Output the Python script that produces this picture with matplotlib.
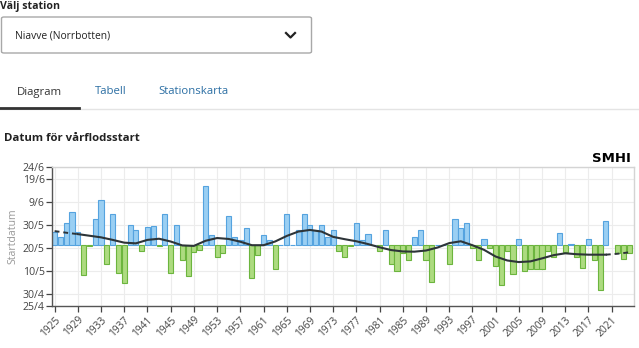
import numpy as np
import matplotlib.pyplot as plt
from matplotlib.patches import FancyBboxPatch

plt.rcParams['font.family'] = ['Open Sans', 'DejaVu Sans']

# -----------------------
# Data (day of year, 140 = 20/5)
# -----------------------
years = list(range(1925, 2025))
start_day = [
    147.1, 144.7, 150.9, 155.7, 146.9, 128.2, 141.0, 152.8, 160.7, 133.1,  # 1925-1934
    154.8, 129.1, 125.1, 149.9, 148.0, 139.0, 149.0, 149.7, 141.0, 154.8,  # 1935-1944
    129.1, 149.9, 135.1, 128.1, 138.5, 139.3, 166.7, 145.8, 136.1, 137.9,  # 1945-1954
    153.9, 144.7, 143.6, 148.7, 127.1, 137.1, 145.8, 143.6, 131.2, 141.6,  # 1955-1964
    154.7, 141.6, 147.9, 154.7, 149.9, 147.9, 149.9, 144.7, 147.9, 139.0,  # 1965-1974
    136.0, 141.0, 150.9, 143.7, 146.0, 141.6, 139.0, 147.9, 133.3, 130.0,  # 1975-1984
    138.0, 135.1, 145.0, 147.9, 135.0, 125.2, 141.6, 141.6, 133.1, 152.7,  # 1985-1994
    148.6, 150.7, 140.0, 135.0, 143.9, 140.0, 132.1, 124.0, 139.0, 129.0,  # 1995-2004
    143.9, 130.0, 131.0, 131.0, 131.0, 139.0, 136.4, 146.7, 138.2, 142.0,  # 2005-2014
    136.3, 131.3, 143.9, 135.0, 122.1, 151.8, np.nan, 137.9, 135.2, 137.9,  # 2015-2024
]
baseline = 141.3

smooth_years = [1925, 1927, 1929, 1931, 1933, 1935, 1937, 1939, 1941, 1943,
                1945, 1947, 1949, 1951, 1953, 1955, 1957, 1959, 1961, 1963,
                1965, 1967, 1969, 1971, 1973, 1975, 1977, 1979, 1981, 1983,
                1985, 1987, 1989, 1991, 1993, 1995, 1997, 1999, 2001, 2003,
                2005, 2007, 2009, 2011, 2013, 2015, 2017, 2019, 2020, 2022, 2024]
smooth_day = [147.4, 146.7, 146.1, 145.4, 144.7, 143.6, 142.4, 142.1, 143.6, 144.1,
              142.9, 141.2, 141.0, 143.2, 144.4, 144.0, 142.8, 141.3, 141.3, 142.9,
              145.3, 147.2, 147.9, 147.2, 144.9, 143.9, 143.0, 141.8, 140.4, 139.2,
              138.6, 138.5, 139.0, 140.3, 142.2, 143.0, 141.3, 139.3, 136.4, 134.7,
              134.0, 134.3, 135.6, 137.0, 137.8, 137.4, 137.2, 137.2, 137.2, 137.6, 138.2]

ytick_days = [115, 120, 130, 140, 150, 160, 170, 175]
ytick_labels = ['25/4', '30/4', '10/5', '20/5', '30/5', '9/6', '19/6', '24/6']
xtick_years = list(range(1925, 2022, 4))

BLUE_FILL, BLUE_EDGE = '#9acff3', '#55a3df'
GREEN_FILL, GREEN_EDGE = '#addb80', '#6cb53e'
TAB_BLUE = '#2b6ea3'

# -----------------------
# Figure
# -----------------------
W, H = 639, 348
fig = plt.figure(figsize=(W / 100, H / 100), dpi=100)
fig.patch.set_facecolor('white')


def fx(px):
    return px / W


def fy(py):
    return 1 - py / H


# page elements above the chart
fig.text(fx(0), fy(6.5), 'Välj station', fontsize=7.6, fontweight='bold',
         color='#222222', va='center', ha='left')
box = FancyBboxPatch((fx(1.5), fy(53)), fx(310), fy(17) - fy(53),
                     boxstyle='round,pad=0,rounding_size=0.004',
                     transform=fig.transFigure, facecolor='white',
                     edgecolor='#a8a8a8', linewidth=1.0)
fig.patches.append(box)
fig.text(fx(15), fy(35.5), 'Niavve (Norrbotten)', fontsize=7.4,
         color='#222222', va='center', ha='left')
fig.lines.append(plt.Line2D([fx(286), fx(290.5), fx(295)],
                            [fy(33), fy(37.5), fy(33)],
                            transform=fig.transFigure, color='#222222', lw=1.6))

fig.text(fx(17), fy(92), 'Diagram', fontsize=8.2, color='#333333',
         va='center', ha='left')
fig.text(fx(95), fy(92), 'Tabell', fontsize=8.2, color=TAB_BLUE,
         va='center', ha='left')
fig.text(fx(158), fy(92), 'Stationskarta', fontsize=8.2, color=TAB_BLUE,
         va='center', ha='left')
fig.lines.append(plt.Line2D([0, 1], [fy(108.5), fy(108.5)],
                            transform=fig.transFigure, color='#e4e4e4', lw=1.0))
fig.lines.append(plt.Line2D([0, fx(79)], [fy(107.5), fy(107.5)],
                            transform=fig.transFigure, color='#333333', lw=2.0))

fig.text(fx(4), fy(139), 'Datum för vårflodsstart', fontsize=8.2,
         fontweight='bold', color='#222222', va='center', ha='left')
fig.text(fx(631), fy(158), 'SMHI', fontsize=9.5, fontweight='heavy',
         color='black', va='center', ha='right', family='DejaVu Sans Condensed')

# -----------------------
# Chart
# -----------------------
ax = fig.add_axes([fx(52.3), fy(306), fx(634) - fx(52.3), fy(167.3) - fy(306)])

yrs = np.array(years)
vals = np.array(start_day)
ok = ~np.isnan(vals)
heights = vals[ok] - baseline
fills = [BLUE_FILL if h >= 0 else GREEN_FILL for h in heights]
edges = [BLUE_EDGE if h >= 0 else GREEN_EDGE for h in heights]
ax.bar(yrs[ok], heights, bottom=baseline, width=0.88, color=fills,
       edgecolor=edges, linewidth=0.8, zorder=2)

sy = np.array(smooth_years)
sd = np.array(smooth_day)
solid = (sy >= 1929) & (sy <= 2020)
ax.plot(sy[solid], sd[solid], color='#2d3438', lw=1.5, zorder=3)
ax.plot(sy[sy <= 1929], sd[sy <= 1929], color='#2d3438', lw=1.4,
        ls=(0, (2.5, 2)), zorder=3)
ax.plot(sy[sy >= 2020], sd[sy >= 2020], color='#2d3438', lw=1.4,
        ls=(0, (2.5, 2)), zorder=3)

ax.set_xlim(1924.6, 2024.85)
ax.set_ylim(115, 175)
ax.set_yticks(ytick_days)
ax.set_yticklabels(ytick_labels)
ax.set_xticks(xtick_years)
ax.set_xticklabels([str(y) for y in xtick_years], rotation=45,
                   ha='right', rotation_mode='anchor')
ax.tick_params(axis='y', labelsize=7.6, colors='#444444', length=4,
               width=0.9, pad=1.5)
ax.tick_params(axis='x', labelsize=7.4, colors='#444444', length=4,
               width=0.9, pad=2)
ax.grid(True, color='#ececec', lw=0.8, zorder=0)
ax.set_axisbelow(True)
for side in ['top', 'right']:
    ax.spines[side].set_color('#d4d4d4')
    ax.spines[side].set_linewidth(1.0)
for side in ['left', 'bottom']:
    ax.spines[side].set_color('#555555')
    ax.spines[side].set_linewidth(1.0)

ax.set_ylabel('Startdatum', fontsize=7.6, color='#999999', labelpad=3)

fig.savefig('out.png', dpi=100)
